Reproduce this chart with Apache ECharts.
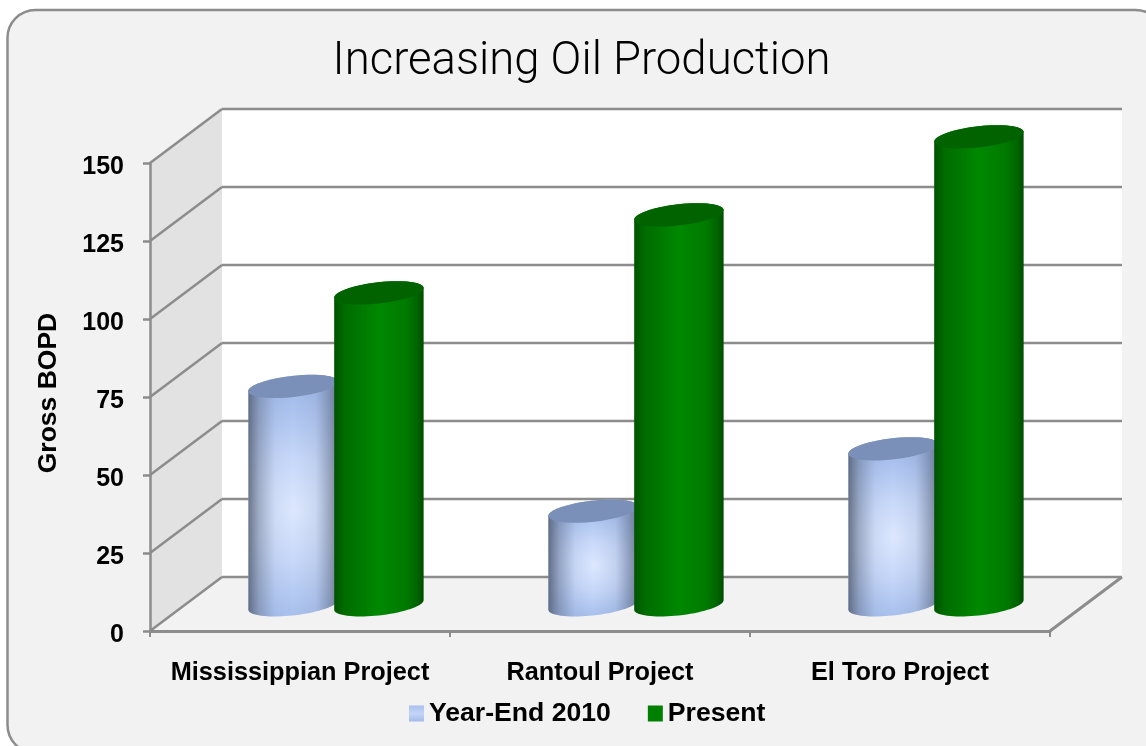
<!DOCTYPE html>
<html>
<head>
<meta charset="utf-8">
<style>html,body{margin:0;padding:0;background:#fff;overflow:hidden}#chart{width:1146px;height:746px}</style>
<script src="https://cdn.jsdelivr.net/npm/echarts@6/dist/echarts.min.js"></script>
</head>
<body>
<div id="chart"></div>
<script>
const categories = ['Mississippian Project', 'Rantoul Project', 'El Toro Project'];
const yearEnd2010 = [70, 30, 50];
const present = [100, 125, 150];
const yTicks = [0, 25, 50, 75, 100, 125, 150];

const FONT = '"Liberation Sans", Arial, sans-serif';
const LINE = '#8c8c8c';

// Oblique projection of the chart box: how far the back wall sits from the axes.
const DEPTH_X = 72, DEPTH_Y = -54;
// Cylinders stand about halfway into that depth.
const BAR_DEPTH_X = 0.5, BAR_DEPTH_Y = 0.485;
const BAR_SHARE = 0.3, BAR_SHIFT = 0.143;
const TILT = 6.5 * Math.PI / 180, CAP_RATIO = 0.235;

function ellipseArc(cx, cy, rx, ry, from, to) {
  const pts = [], n = 36;
  for (let i = 0; i <= n; i++) {
    const t = from + (to - from) * i / n;
    pts.push([
      cx + rx * Math.cos(t) * Math.cos(TILT) + ry * Math.sin(t) * Math.sin(TILT),
      cy - rx * Math.cos(t) * Math.sin(TILT) + ry * Math.sin(t) * Math.cos(TILT)
    ]);
  }
  return pts;
}

function stopsOf(list) {
  return list.map(s => ({ offset: s[0], color: s[1] }));
}
function linear(x0, y0, x1, y1, stops) {
  return { type: 'linear', x: x0, y: y0, x2: x1, y2: y1, colorStops: stopsOf(stops) };
}

// Blue cylinders glow from the middle; the glow is sized to each cylinder's height.
function blueLayers(w, h) {
  const r = Math.max(w, h) / 2 / Math.min(w, h);
  return [
    { type: 'radial', x: 0.52, y: 0.56, r: r,
      colorStops: stopsOf([[0, '#dde8ff'], [0.45, '#c6d7f9'], [0.8, '#aec5f0'], [1, '#a2bbea']]) },
    linear(0, 0, 1, 0, [[0, 'rgba(70,78,95,0.72)'], [0.12, 'rgba(80,88,105,0.36)'], [0.3, 'rgba(90,100,120,0.05)'],
      [0.5, 'rgba(90,100,120,0)'], [0.75, 'rgba(90,100,120,0.08)'], [1, 'rgba(70,78,95,0.6)']])
  ];
}
function greenLayers() {
  return [
    linear(0, 0, 1, 0, [[0, '#005400'], [0.12, '#006c00'], [0.5, '#008800'], [0.8, '#007a00'], [0.93, '#006400'], [1, '#004c00']])
  ];
}

function cylinderRenderer(shift, layers, capColor) {
  return function (params, api) {
    const top = api.coord([api.value(0), api.value(1)]);
    const base = api.coord([api.value(0), 0]);
    const band = api.size([1, 0])[0];
    const rx = band * BAR_SHARE / 2, ry = rx * CAP_RATIO;
    const cx = top[0] + band * shift + DEPTH_X * BAR_DEPTH_X;
    const topY = top[1] + DEPTH_Y * BAR_DEPTH_Y;
    const baseY = base[1] + DEPTH_Y * BAR_DEPTH_Y;
    const t0 = Math.atan2(ry * Math.sin(TILT), rx * Math.cos(TILT));
    const outline = ellipseArc(cx, baseY, rx, ry, t0, t0 + Math.PI)
      .concat(ellipseArc(cx, topY, rx, ry, t0 + Math.PI, t0 + 2 * Math.PI));
    const children = layers(2 * rx, baseY - topY + 2 * ry).map(fill => ({
      type: 'polygon', shape: { points: outline }, style: { fill: fill }, silent: true
    }));
    children.push({
      type: 'polygon',
      shape: { points: ellipseArc(cx, topY, rx, ry, 0, 2 * Math.PI) },
      style: { fill: capColor }, silent: true
    });
    return { type: 'group', children: children };
  };
}

// Side wall and back wall behind the cylinders.
function renderWalls(params, api) {
  const b = api.coord([0, 0]);
  const t = api.coord([0, 150]);
  const x0 = b[0] - api.size([1, 0])[0] / 2;
  return {
    type: 'group',
    children: [
      { type: 'polygon', shape: { points: [[x0, b[1]], [x0 + DEPTH_X, b[1] + DEPTH_Y], [x0 + DEPTH_X, t[1] + DEPTH_Y], [x0, t[1]]] },
        style: { fill: '#e2e2e2' }, silent: true },
      { type: 'rect', shape: { x: x0 + DEPTH_X, y: t[1] + DEPTH_Y, width: api.size([1, 0])[0] * 3, height: b[1] - t[1] },
        style: { fill: '#ffffff' }, silent: true }
    ]
  };
}

function renderGrid(params, api) {
  const p = api.coord([0, api.value(0)]);
  const band = api.size([1, 0])[0];
  const x0 = p[0] - band / 2;
  const stroke = { stroke: LINE, lineWidth: 2.5, fill: null };
  return {
    type: 'group',
    children: [
      { type: 'line', shape: { x1: x0, y1: p[1], x2: x0 + DEPTH_X, y2: p[1] + DEPTH_Y }, style: stroke, silent: true },
      { type: 'line', shape: { x1: x0 + DEPTH_X, y1: p[1] + DEPTH_Y, x2: x0 + DEPTH_X + band * 3, y2: p[1] + DEPTH_Y }, style: stroke, silent: true }
    ]
  };
}

// Right-hand edge of the floor.
function renderFloorEdge(params, api) {
  const p = api.coord([2, 0]);
  const band = api.size([1, 0])[0];
  const x = p[0] + band / 2;
  return { type: 'line', shape: { x1: x, y1: p[1], x2: x + DEPTH_X, y2: p[1] + DEPTH_Y },
    style: { stroke: LINE, lineWidth: 3, fill: null }, silent: true };
}

const option = {
  animation: false,
  graphic: [{
    type: 'rect', z: -10, silent: true,
    shape: { x: 7.5, y: 10, width: 1156, height: 743, r: 28 },
    style: { fill: '#f2f2f2', stroke: '#8c8c8c', lineWidth: 2.5 }
  }],
  title: {
    text: 'Increasing Oil Production', left: 576.5, top: 35, textAlign: 'center',
    textStyle: { fontFamily: 'Roboto, "Liberation Sans", sans-serif', fontWeight: 300, fontSize: 45.5, color: '#000' }
  },
  legend: {
    left: 409, top: 700, padding: 0, itemWidth: 15, itemHeight: 16, itemGap: 37,
    textStyle: { fontFamily: FONT, fontWeight: 'bold', fontSize: 26.6, color: '#000' },
    data: [
      { name: 'Year-End 2010', icon: 'rect', itemStyle: { color: linear(0, 0, 0, 1, [[0, '#a9c0ee'], [0.5, '#c4d4f6'], [1, '#a3bbeb']]) } },
      { name: 'Present', icon: 'rect', itemStyle: { color: '#008000' } }
    ]
  },
  grid: { left: 150, right: 96, top: 163, bottom: 115 },
  xAxis: {
    type: 'category', data: categories, z: 5,
    axisLine: { lineStyle: { color: LINE, width: 3 } },
    axisTick: { show: true, length: 6, lineStyle: { color: LINE, width: 2 } },
    axisLabel: { interval: 0, fontFamily: FONT, fontWeight: 'bold', fontSize: 25.3, color: '#000', margin: 30 }
  },
  yAxis: {
    type: 'value', min: 0, max: 150, interval: 25, z: 5,
    name: 'Gross BOPD', nameLocation: 'middle', nameGap: 88, nameRotate: 90,
    nameTextStyle: { fontFamily: FONT, fontWeight: 'bold', fontSize: 26.5, color: '#000', padding: [0, 0, 0, 8] },
    axisLine: { show: true, lineStyle: { color: LINE, width: 2.5 } },
    axisTick: { show: true, length: 7, lineStyle: { color: LINE, width: 2.5 } },
    axisLabel: { fontFamily: FONT, fontWeight: 'bold', fontSize: 25, color: '#000', margin: 26, verticalAlign: 'top', lineHeight: 8 },
    splitLine: { show: false }
  },
  series: [
    { type: 'custom', name: 'walls', z: 1, clip: false, silent: true, renderItem: renderWalls, data: [[0]] },
    { type: 'custom', name: 'grid', z: 2, clip: false, silent: true, renderItem: renderGrid, data: yTicks.map(v => [v]) },
    { type: 'custom', name: 'floor edge', z: 2, clip: false, silent: true, renderItem: renderFloorEdge, data: [[0]] },
    { type: 'custom', name: 'Year-End 2010', z: 3, clip: false, silent: true,
      renderItem: cylinderRenderer(-BAR_SHIFT, blueLayers, '#7b90b8'),
      itemStyle: { color: '#b4c8f2' },
      encode: { x: 0, y: 1 }, data: yearEnd2010.map((v, i) => [i, v]) },
    { type: 'custom', name: 'Present', z: 4, clip: false, silent: true,
      renderItem: cylinderRenderer(BAR_SHIFT, greenLayers, '#006300'),
      itemStyle: { color: '#008000' },
      encode: { x: 0, y: 1 }, data: present.map((v, i) => [i, v]) }
  ]
};

echarts.init(document.getElementById('chart'), null, { renderer: 'canvas' }).setOption(option);
</script>
</body>
</html>
